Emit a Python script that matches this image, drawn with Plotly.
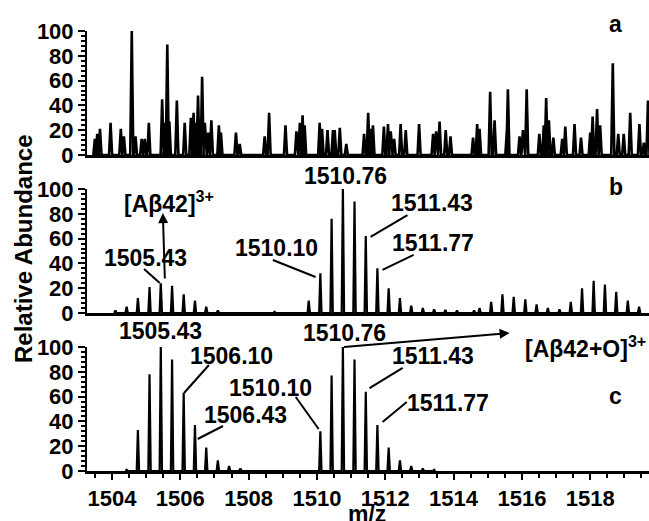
import plotly.graph_objects as go

# ---------------- data ----------------
# panel a: noise spectrum (m/z, relative abundance)
a_mz = [1503.50, 1503.57, 1503.65, 1503.96, 1504.26, 1504.35, 1504.58, 1504.69, 1504.87, 1504.96,
        1505.08, 1505.47, 1505.55, 1505.62, 1505.68, 1505.90, 1506.13, 1506.31, 1506.39, 1506.45,
        1506.52, 1506.64, 1506.72, 1506.82, 1506.91, 1507.13, 1507.19, 1507.63, 1507.74, 1508.47,
        1508.60, 1509.08, 1509.40, 1509.50, 1509.58, 1509.64, 1510.08, 1510.15, 1510.31, 1510.47,
        1510.52, 1510.67, 1510.86, 1511.38, 1511.50, 1511.57, 1511.64, 1511.96, 1512.08, 1512.16,
        1512.26, 1512.45, 1512.60, 1512.99, 1513.40, 1513.49, 1513.59, 1513.77, 1513.91, 1514.57,
        1514.69, 1514.76, 1515.07, 1515.20, 1515.56, 1515.59, 1515.93, 1516.03, 1516.14, 1516.51,
        1516.64, 1516.71, 1516.79, 1516.92, 1517.18, 1517.27, 1517.54, 1517.73, 1518.00, 1518.07,
        1518.20, 1518.29, 1518.66, 1518.82, 1518.98, 1519.17, 1519.44, 1519.57, 1519.69]
a_int = [13, 17, 21, 26, 21, 15, 100, 15, 13, 13,
         26, 45, 26, 89, 27, 44, 26, 30, 34, 26,
         48, 63, 26, 18, 28, 24, 18, 18, 9, 15,
         34, 24, 19, 26, 32, 24, 26, 21, 20, 20,
         20, 22, 9, 17, 34, 21, 24, 23, 25, 19,
         13, 25, 20, 25, 17, 19, 27, 20, 15, 14,
         25, 21, 51, 28, 20, 53, 15, 20, 53, 17,
         24, 46, 28, 14, 13, 23, 25, 14, 18, 31,
         37, 24, 74, 17, 17, 34, 25, 10, 44]

# panel b
b_mz = [1504.10, 1504.43, 1504.76, 1505.10, 1505.43, 1505.76, 1506.10, 1506.43, 1506.76, 1507.10,
        1508.76, 1509.76, 1510.10, 1510.43, 1510.76, 1511.10, 1511.43, 1511.77, 1512.10, 1512.43,
        1512.76, 1513.10, 1513.43, 1513.76, 1514.10, 1514.60, 1514.76, 1515.10, 1515.43, 1515.76,
        1516.10, 1516.43, 1516.76, 1517.10, 1517.43, 1517.76, 1518.10, 1518.43, 1518.76, 1519.10,
        1519.43]
b_int = [2, 5, 12, 21, 24, 22, 15, 10, 5, 2,
         1, 10, 32, 76, 100, 90, 62, 36, 20, 12,
         6, 4, 3, 2.5, 2, 2, 4, 9, 15, 13,
         11, 7, 4, 3, 9, 20, 26, 23, 17, 10,
         5]

# panel c
c_mz = [1504.43, 1504.76, 1505.10, 1505.43, 1505.76, 1506.10, 1506.43, 1506.76, 1507.10, 1507.43,
        1507.76, 1510.10, 1510.43, 1510.76, 1511.10, 1511.43, 1511.77, 1512.10, 1512.43, 1512.76,
        1513.10, 1513.43]
c_int = [1, 33, 78, 100, 90, 63, 37, 19, 8.5, 4,
         2, 32, 77, 100, 90, 64, 37, 19, 8.5, 4,
         2, 1]

x_ticks = [1504, 1506, 1508, 1510, 1512, 1514, 1516, 1518]
y_ticks = [0, 20, 40, 60, 80, 100]

FONT = "Liberation Sans, Arial, Helvetica, sans-serif"


def spikes(mz, inten, hw):
    xs, ys = [], []
    for m, h in sorted(zip(mz, inten)):
        xs += [m - hw, m, m + hw]
        ys += [0, h, 0]
    return xs, ys


fig = go.Figure()
for (mz, it, xa, ya, hw, lw) in [(c_mz, c_int, 'x', 'y', 0.035, 2.2),
                                 (b_mz, b_int, 'x2', 'y2', 0.035, 2.2),
                                 (a_mz, a_int, 'x3', 'y3', 0.045, 2.6)]:
    xs, ys = spikes(mz, it, hw)
    fig.add_trace(go.Scatter(x=xs, y=ys, mode='lines', xaxis=xa, yaxis=ya,
                             line=dict(color='black', width=lw), cliponaxis=False,
                             hoverinfo='skip'))

tickfont = dict(family=FONT, size=22, color='black', weight='bold')
ycommon = dict(range=[0, 100], tickvals=y_ticks, ticks='outside', ticklen=7, tickwidth=2,
               tickcolor='black', showline=True, linewidth=2, linecolor='black',
               showgrid=False, zeroline=False, tickfont=tickfont,
               minor=dict(dtick=4, tick0=0, ticks='outside', ticklen=4, tickwidth=1.5,
                          tickcolor='black', showgrid=False))
xrange_ = [1503.27, 1519.72]
xcommon = dict(range=xrange_, showline=True, linewidth=2.5, linecolor='black',
               showgrid=False, zeroline=False)

fig.update_layout(
    width=649, height=521,
    margin=dict(l=87, r=0, t=31, b=50),
    plot_bgcolor='white', paper_bgcolor='white', showlegend=False,
    xaxis=dict(**xcommon, anchor='y', domain=[0, 1], tickvals=x_ticks, ticks='outside',
               ticklen=6, tickwidth=2, tickcolor='black', tickfont=tickfont,
               minor=dict(dtick=0.5, tick0=1504, ticks='outside', ticklen=4, tickwidth=2,
                          tickcolor='black', showgrid=False)),
    xaxis2=dict(**xcommon, anchor='y2', matches='x', showticklabels=False, ticks=''),
    xaxis3=dict(**xcommon, anchor='y3', matches='x', showticklabels=False, ticks=''),
    yaxis=dict(**ycommon, anchor='x', domain=[0, 0.2818]),
    yaxis2=dict(**ycommon, anchor='x2', domain=[0.3591, 0.6409]),
    yaxis3=dict(**ycommon, anchor='x3', domain=[0.7182, 1.0]),
)

afont = dict(family=FONT, size=23, color='black', weight='bold')
ann = []


def label(text, x, y, xr, yr, xanchor='center'):
    # y is given in % of the panel's 0-100 scale -> use the axis domain reference
    ann.append(dict(text=text, x=x, y=y / 100.0, xref=xr, yref=yr + ' domain',
                    showarrow=False, xanchor=xanchor, yanchor='middle', font=afont))


# panel a
label('a', 1518.74, 105.6, 'x3', 'y3')
# panel b
label('b', 1518.74, 101.6, 'x2', 'y2')
label('1510.76', 1510.84, 110.5, 'x2', 'y2')
label('1511.43', 1513.36, 88.7, 'x2', 'y2')
label('1511.77', 1513.39, 56.5, 'x2', 'y2')
label('1510.10', 1508.82, 52.4, 'x2', 'y2')
label('1505.43', 1504.99, 44.4, 'x2', 'y2')
label('[Aβ42]<sup>3+</sup>', 1505.67, 89.5, 'x2', 'y2')
ann.append(dict(text='', x=1505.49, y=0.806, ax=1505.55, ay=0.266, xref='x2', yref='y2 domain',
                axref='x2', ayref='y2 domain', showarrow=True, arrowhead=2, arrowsize=1,
                arrowwidth=2, arrowcolor='black', standoff=0, startstandoff=0))
# panel c
label('c', 1518.74, 60.5, 'x', 'y')
label('1505.43', 1505.43, 112.9, 'x', 'y')
label('1506.10', 1507.51, 92.7, 'x', 'y')
label('1506.43', 1507.92, 45.2, 'x', 'y')
label('1510.10', 1508.65, 66.9, 'x', 'y')
label('1510.76', 1510.81, 111.3, 'x', 'y')
label('1511.43', 1513.39, 92.7, 'x', 'y')
label('1511.77', 1513.85, 54.8, 'x', 'y')
label('[Aβ42+O]<sup>3+</sup>', 1516.02, 100.0, 'x', 'y', xanchor='left')
ann.append(dict(text='', x=1515.64, y=1.113, ax=1510.75, ay=1.0, xref='x', yref='y domain',
                axref='x', ayref='y domain', showarrow=True, arrowhead=2, arrowsize=1,
                arrowwidth=2, arrowcolor='black', standoff=0, startstandoff=0))

# axis titles
ann.append(dict(text='Relative Abundance', x=-0.1139, y=0.5068, xref='paper', yref='paper',
                showarrow=False, textangle=-90, xanchor='center', yanchor='middle',
                font=dict(family=FONT, size=24, color='black', weight='bold')))
ann.append(dict(text='m/z', x=0.498, y=-0.097, xref='paper', yref='paper',
                showarrow=False, xanchor='center', yanchor='middle',
                font=dict(family=FONT, size=23, color='black', weight='bold')))
fig.update_layout(annotations=ann)

shapes = []


def leader(x0, y0, x1, y1, xr, yr):
    shapes.append(dict(type='line', x0=x0, y0=y0, x1=x1, y1=y1, xref=xr, yref=yr,
                       line=dict(color='black', width=2)))


# panel b leaders
leader(1512.65, 79, 1511.57, 61.3, 'x2', 'y2')
leader(1512.83, 46.8, 1511.92, 34.7, 'x2', 'y2')
leader(1508.71, 42.7, 1509.96, 29, 'x2', 'y2')
leader(1504.94, 35.5, 1505.40, 24.2, 'x2', 'y2')
# panel c leaders
leader(1506.84, 85.5, 1506.11, 62.9, 'x', 'y')
leader(1507.25, 36.3, 1506.51, 25.8, 'x', 'y')
leader(1509.38, 59.7, 1510.05, 33.9, 'x', 'y')
leader(1512.51, 83.1, 1511.54, 66.9, 'x', 'y')
leader(1512.63, 55.6, 1511.92, 39.5, 'x', 'y')
fig.update_layout(shapes=shapes)

fig.write_html("out.html", config={'displayModeBar': False},
               post_script="document.body.style.margin='0px';")
